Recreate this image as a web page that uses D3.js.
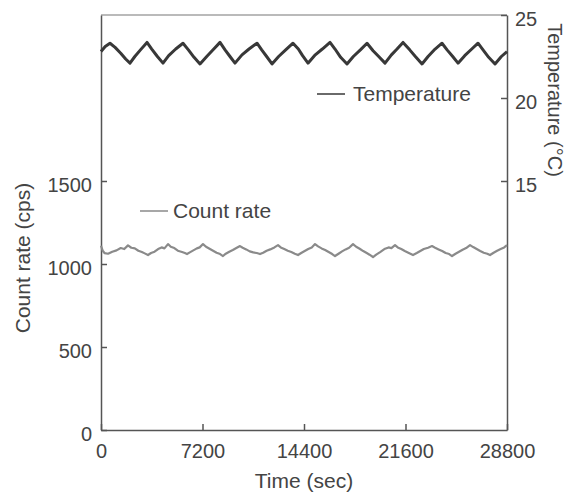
<!DOCTYPE html>
<html>
<head>
<meta charset="utf-8">
<script src="https://cdn.jsdelivr.net/npm/d3@7"></script>
<style>
  body { margin: 0; background: #fff; }
  text { font-family: "Liberation Sans", Arial, sans-serif; fill: #444; }
</style>
</head>
<body>
<svg id="chart"></svg>
<script>
// Temperature readings (sec, °C)
const tempTime = [0, 300, 638, 1000, 1400, 1750, 2057, 2400, 2800, 3263, 3600, 4000, 4398, 4800, 5300, 5817, 6200, 6600, 7023,
  7500, 8000, 8442, 8800, 9150, 9506, 10000, 10500, 11067, 11400, 11750, 12131, 12600, 13100, 13620, 14000, 14300, 14684,
  15200, 15700, 16245, 16600, 17000, 17451, 17900, 18400, 18870, 19300, 19700, 20147, 20600, 21000, 21424, 21900, 22300,
  22772, 23200, 23700, 24190, 24550, 24950, 25326, 25800, 26300, 26744, 27100, 27500, 27950, 28400, 28800];
const temperature = [22.8, 23.1, 23.3, 23.05, 22.7, 22.35, 22.1, 22.5, 22.9, 23.35, 22.95, 22.5, 22.1, 22.55, 22.95, 23.3, 22.9, 22.45, 22.05,
  22.5, 22.95, 23.35, 22.9, 22.5, 22.1, 22.6, 22.95, 23.3, 22.9, 22.5, 22.05, 22.5, 22.9, 23.3, 22.95, 22.55, 22.1,
  22.6, 22.95, 23.35, 22.95, 22.45, 22.05, 22.5, 22.9, 23.3, 22.85, 22.5, 22.1, 22.6, 22.95, 23.35, 22.9, 22.5,
  22.05, 22.5, 22.95, 23.3, 22.9, 22.5, 22.1, 22.55, 22.95, 23.3, 22.9, 22.45, 22.05, 22.5, 22.8];

// Count rate readings (sec, cps)
const countTime = [0, 120, 250, 500, 800, 1100, 1400, 1650, 1915, 2150, 2400, 2650, 2900, 3100, 3334, 3550, 3800, 4050, 4300, 4500,
  4753, 4950, 5200, 5450, 5750, 5950, 6101, 6300, 6550, 6800, 7000, 7236, 7450, 7700, 7950, 8200, 8450, 8655, 8850, 9100,
  9350, 9600, 9861, 10050, 10300, 10550, 10800, 11050, 11279, 11500, 11750, 12000, 12300, 12556, 12750, 13000, 13250, 13500,
  13750, 13975, 14200, 14450, 14700, 14950, 15181, 15400, 15650, 15900, 16150, 16400, 16600, 16850, 17100, 17350, 17600,
  17877, 18100, 18350, 18600, 18850, 19050, 19296, 19550, 19800, 20100, 20400, 20600, 20856, 21050, 21300, 21550, 21800,
  21950, 22133, 22400, 22650, 22900, 23200, 23481, 23700, 23950, 24200, 24450, 24700, 24900, 25150, 25400, 25650, 25900,
  26177, 26400, 26650, 26900, 27150, 27400, 27596, 27850, 28100, 28350, 28600, 28800];
const countRate = [1110, 1080, 1066, 1062, 1074, 1082, 1096, 1090, 1112, 1098, 1094, 1080, 1072, 1064, 1054, 1066, 1074, 1090, 1100, 1094,
  1120, 1104, 1096, 1080, 1072, 1066, 1060, 1070, 1082, 1094, 1100, 1120, 1104, 1092, 1080, 1068, 1060, 1048, 1062, 1074,
  1084, 1096, 1108, 1098, 1088, 1076, 1070, 1066, 1060, 1068, 1080, 1088, 1100, 1114, 1100, 1090, 1080, 1072,
  1062, 1054, 1066, 1078, 1090, 1100, 1120, 1106, 1094, 1084, 1072, 1060, 1048, 1062, 1076, 1088, 1098,
  1120, 1104, 1092, 1078, 1066, 1056, 1042, 1058, 1072, 1090, 1100, 1096, 1114, 1100, 1090, 1078, 1068,
  1062, 1054, 1066, 1078, 1090, 1098, 1108, 1098, 1088, 1078, 1066, 1060, 1048, 1062, 1074, 1086, 1096,
  1114, 1102, 1090, 1078, 1068, 1062, 1054, 1068, 1080, 1090, 1100, 1114];

const xTicks = [0, 7200, 14400, 21600, 28800];
const countTicks = [0, 500, 1000, 1500];
const tempTicks = [15, 20, 25];

const margin = {top: 15, right: 68, bottom: 66, left: 101};
const W = 575, H = 496;
const width = W - margin.left - margin.right;
const height = H - margin.top - margin.bottom;

const svg = d3.select('#chart').attr('width', W).attr('height', H);
const chart = svg.append('g').attr('transform', `translate(${margin.left},${margin.top})`);

const xScale = d3.scaleLinear().domain([0, 28800]).range([0, width]);
const yCount = d3.scaleLinear().domain([0, 2500]).range([height, 0]);
const yTemp = d3.scaleLinear().domain([0, 25]).range([height, 0]);

// frame top edge
chart.append('line')
    .attr('x1', 0).attr('x2', width).attr('y1', 0).attr('y2', 0)
    .attr('stroke', '#777').attr('stroke-width', 1.2);

const fmt = d3.format('d');
const xAxisG = chart.append('g')
    .attr('transform', `translate(0,${height})`)
    .call(d3.axisBottom(xScale).tickValues(xTicks).tickFormat(fmt).tickSizeInner(-6).tickSizeOuter(0).tickPadding(14));
const yAxisG = chart.append('g')
    .call(d3.axisLeft(yCount).tickValues(countTicks).tickFormat(fmt).tickSizeInner(-6).tickSizeOuter(0).tickPadding(9));
const y2AxisG = chart.append('g')
    .attr('transform', `translate(${width},0)`)
    .call(d3.axisRight(yTemp).tickValues(tempTicks).tickFormat(fmt).tickSizeInner(-6).tickSizeOuter(0).tickPadding(8));

[xAxisG, yAxisG, y2AxisG].forEach(g => {
    g.select('.domain').attr('stroke', '#555').attr('stroke-width', 1.5);
    g.selectAll('.tick line').attr('stroke', '#555').attr('stroke-width', 1.5);
    g.selectAll('.tick text').attr('font-size', 20).attr('fill', '#444')
        .attr('font-family', '"Liberation Sans", Arial, sans-serif');
});
xAxisG.selectAll('.tick text').attr('dy', '0.71em');
yAxisG.selectAll('.tick text').attr('dy', '0.5em');
y2AxisG.selectAll('.tick text').attr('dy', '0.5em');

// lines
const tempLine = d3.line().x((d, i) => xScale(tempTime[i])).y(d => yTemp(d));
const countLine = d3.line().x((d, i) => xScale(countTime[i])).y(d => yCount(d));

chart.append('path').datum(countRate)
    .attr('d', countLine).attr('fill', 'none')
    .attr('stroke', '#8a8a8a').attr('stroke-width', 2.2).attr('stroke-linejoin', 'round');

chart.append('path').datum(temperature)
    .attr('d', tempLine).attr('fill', 'none')
    .attr('stroke', '#383838').attr('stroke-width', 3).attr('stroke-linejoin', 'round');

// legends
chart.append('line').attr('x1', 216).attr('x2', 244).attr('y1', 79).attr('y2', 79)
    .attr('stroke', '#383838').attr('stroke-width', 1.5);
chart.append('text').attr('x', 252).attr('y', 86).attr('font-size', 21).text('Temperature');

chart.append('line').attr('x1', 39).attr('x2', 67).attr('y1', 196).attr('y2', 196)
    .attr('stroke', '#8a8a8a').attr('stroke-width', 1.5);
chart.append('text').attr('x', 72).attr('y', 203).attr('font-size', 21).text('Count rate');

// axis titles
svg.append('text')
    .attr('x', margin.left + width / 2).attr('y', H - 8)
    .attr('text-anchor', 'middle').attr('font-size', 21)
    .text('Time (sec)');

svg.append('text')
    .attr('transform', `translate(30,${258}) rotate(-90)`)
    .attr('text-anchor', 'middle').attr('font-size', 21)
    .text('Count rate (cps)');

svg.append('text')
    .attr('transform', `translate(548,${100}) rotate(90)`)
    .attr('text-anchor', 'middle').attr('font-size', 20)
    .text('Temperature (°C)');
</script>
</body>
</html>
